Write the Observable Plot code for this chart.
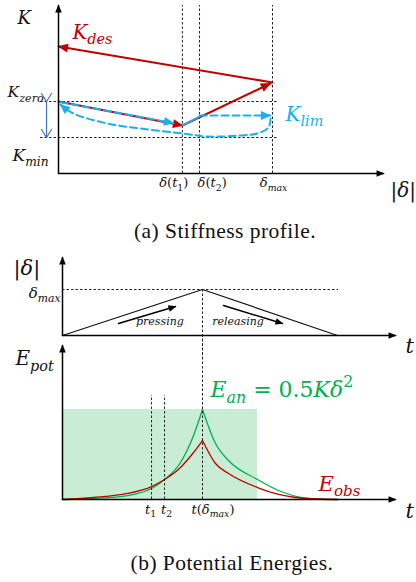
<!DOCTYPE html>
<html><head><meta charset="utf-8">
<script src="https://cdn.jsdelivr.net/npm/d3@7"></script>
<script src="https://cdn.jsdelivr.net/npm/@observablehq/plot@0.6"></script>
<style>
body{margin:0;background:#fff;}
#root{position:relative;width:416px;height:582px;overflow:hidden;background:#fff;}
#root svg{position:absolute;left:0;background:transparent;overflow:visible;}
.cap{position:absolute;font-family:"Liberation Serif","Times New Roman",serif;font-size:21.5px;letter-spacing:0.45px;line-height:21px;white-space:nowrap;transform:translateX(-50%);color:#111;}
</style></head><body><div id="root"></div><script>
// ================= DATA =================
// Panel (a): stiffness K versus |δ|  (δmax = 1, K_zero = 1)
const deltaMarks = [0.579, 0.659, 1.0];                 // δ(t1), δ(t2), δmax
const deltaTickLabels = ["δ(t_{1})", "δ(t_{2})", "δ_{max}"];
const kLevels = [1.0, 0.5];                              // K_zero, K_min
const kLevelLabels = ["K_{zero}", "K_{min}"];
const kDesDown = [[0, 1.0], [0.579, 0.667]];
const kDesUp   = [[0.579, 0.667], [0.99, 1.25]];
const kDesBack = [[1.0, 1.264], [0, 1.764]];
const kLimDown = [[0.01, 0.99], [0.537, 0.699]];
const kLimStep = [[0.579, 0.667], [0.659, 0.79]];
const kLimHold = [[0.659, 0.806], [0.99, 0.806]];
const kLimReturn = [[0.991, 0.764], [0.981, 0.639], [0.93, 0.556], [0.85, 0.528], [0.696, 0.514],
                    [0.579, 0.556], [0.383, 0.625], [0.229, 0.694], [0.07, 0.833], [0.009, 0.958]];
const kRange = [[-0.056, 1.0], [-0.056, 0.5]];

// Panel (b) top: |δ| versus t  (t(δmax) = 1)
const deltaProfile = [[0, 0], [1, 1], [1.964, 0]];
const pressingArrow = [[0.4, 0.261], [0.807, 0.63]];
const releasingArrow = [[1.15, 0.652], [1.571, 0.261]];

// Panel (b) bottom: potential energies versus t
const tMarks = [0.636, 0.729];                            // t1, t2
const tTickLabels = ["t_{1}", "t_{2}", "t(δ_{max})"];
const eAnRise  = [[0.007, 0], [0.221, 0.011], [0.464, 0.044], [0.636, 0.122], [0.729, 0.222], [0.843, 0.411], [0.936, 0.711], [1.0, 1.0]];
const eAnFall  = [[1.0, 1.0], [1.093, 0.622], [1.186, 0.433], [1.393, 0.222], [1.543, 0.1], [1.714, 0.022], [1.9, 0.0], [1.964, 0]];
const eObsRise = [[0.007, 0], [0.221, 0.022], [0.464, 0.067], [0.636, 0.144], [0.729, 0.222], [0.843, 0.356], [0.936, 0.522], [1.0, 0.656]];
const eObsFall = [[1.0, 0.656], [1.093, 0.40], [1.186, 0.289], [1.393, 0.133], [1.543, 0.056], [1.736, 0.011], [1.964, 0]];
const shade = [{t0: 0.007, t1: 1.393, e: 1.0}];

// ================= STYLE =================
const RED = "#C00000", BLUE = "#1AAFEF", GREEN = "#00B050", DBLUE = "#4472C4", INK = "#000000";
const MATH = "DejaVu Serif";
const dashK = {stroke: "#222", strokeWidth: 1, strokeDasharray: "2.5,2"};

function label(x, y, text, size, o = {}) {
  return Plot.text([{x, y, text}], {x: "x", y: "y", text: "text", fontSize: size, fontFamily: MATH,
    fontStyle: "italic", fill: o.fill || "#111", textAnchor: o.anchor || "start", lineAnchor: "bottom"});
}
function arrow(data, o) {
  return Plot.line(data, {markerEnd: "arrow", ...o});
}

// Turn Plot's open arrow markers into filled triangles (by colour); the dark-blue range marker stays open.
function fixMarkers(svg) {
  d3.select(svg).selectAll("marker").each(function () {
    const m = d3.select(this), c = (m.attr("stroke") || "").toUpperCase();
    m.attr("markerUnits", "userSpaceOnUse").attr("markerWidth", 20).attr("markerHeight", 20)
     .attr("viewBox", "-16 -10 20 20");
    m.selectAll("*").remove();
    if (c === DBLUE.toUpperCase()) {
      m.attr("stroke-width", 1.2);
      m.append("path").attr("d", "M-8,-5L0,0L-8,5").attr("fill", "none");
    } else {
      const [len, hw] = c === INK.toUpperCase() ? [8, 3.3] : [10.5, 4.5];
      m.attr("fill", m.attr("stroke")).attr("stroke", "none");
      m.append("path").attr("d", `M${-len + 1},${-hw}L1,0L${-len + 1},${hw}Z`);
    }
  });
}

const UP = /^[()0-9.=+|\s]+$/;
function mathify(svg) {
  svg.querySelectorAll("text").forEach(t => {
    const s = t.textContent;
    const fs = parseFloat(getComputedStyle(t).fontSize);
    const segs = []; const re = /([_^])\{([^}]*)\}/g; let last = 0, m;
    while ((m = re.exec(s))) {
      if (m.index > last) segs.push({s: s.slice(last, m.index), k: 0});
      segs.push({s: m[2], k: m[1] === "_" ? 1 : -1});
      last = re.lastIndex;
    }
    if (last < s.length) segs.push({s: s.slice(last), k: 0});
    t.textContent = "";
    let cur = 0;
    for (const g of segs) {
      const shift = g.k === 1 ? 0.28 * fs : g.k === -1 ? -0.42 * fs : 0;
      const runs = g.s.match(/[()0-9.=+|\s]+|[^()0-9.=+|\s]+/g) || [];
      runs.forEach((r, i) => {
        const ts = document.createElementNS("http://www.w3.org/2000/svg", "tspan");
        ts.textContent = r;
        if (i === 0 && shift !== cur) { ts.setAttribute("dy", shift - cur); cur = shift; }
        if (g.k) ts.setAttribute("font-size", 0.72 * fs);
        if (UP.test(r)) ts.setAttribute("font-style", "normal");
        t.appendChild(ts);
      });
    }
  });
}

const root = document.getElementById("root");
function place(svg, top) {
  svg.style.top = top + "px";
  root.appendChild(svg);
  fixMarkers(svg);
  mathify(svg);
}
function caption(text, cx, top) {
  const d = document.createElement("div");
  d.className = "cap"; d.textContent = text;
  d.style.left = cx + "px"; d.style.top = top + "px";
  root.appendChild(d);
}

// ================= PANEL (a) =================
const A = Plot.plot({
  width: 416, height: 205,
  style: {background: "transparent", overflow: "visible"},
  x: {domain: [0, 1], range: [58, 272], axis: null},
  y: {domain: [0, 1], range: [173, 101], axis: null},
  marks: [
    Plot.ruleX(deltaMarks, {y1: 0, y2: 2.333, ...dashK}),
    Plot.ruleY(kLevels, {x1: -0.084, x2: 1.023, ...dashK}),
    Plot.line(kRange, {stroke: DBLUE, strokeWidth: 1.2, markerStart: "arrow", markerEnd: "arrow"}),
    arrow(kDesDown, {stroke: RED, strokeWidth: 2}),
    arrow(kDesUp, {stroke: RED, strokeWidth: 2}),
    arrow(kDesBack, {stroke: RED, strokeWidth: 2}),
    arrow(kLimDown, {stroke: BLUE, strokeWidth: 2, strokeDasharray: "7,4"}),
    Plot.line(kLimStep, {stroke: BLUE, strokeWidth: 2}),
    arrow(kLimHold, {stroke: BLUE, strokeWidth: 2, strokeDasharray: "7,4"}),
    arrow(kLimReturn, {stroke: BLUE, strokeWidth: 2, strokeDasharray: "7,4", curve: "catmull-rom"}),
    arrow([[0, 0], [0, 2.333]], {stroke: INK, strokeWidth: 1.5}),
    arrow([[0, 0], [1.519, 0]], {stroke: INK, strokeWidth: 1.5}),
    label(-0.192, 2.083, "K", 18),
    label(0.065, 1.875, "K_{des}", 20, {fill: RED}),
    label(1.061, 0.736, "K_{lim}", 20, {fill: BLUE}),
    label(-0.238, kLevels[0] + 0.056, kLevelLabels[0], 15.5),
    label(-0.215, kLevels[1] - 0.333, kLevelLabels[1], 17),
    label(deltaMarks[0] + 0.028, -0.194, deltaTickLabels[0], 13, {anchor: "end"}),
    label(deltaMarks[1] - 0.009, -0.194, deltaTickLabels[1], 13),
    label(deltaMarks[2] + 0.005, -0.194, deltaTickLabels[2], 13, {anchor: "middle"}),
    label(1.551, -0.333, "|δ|", 20)
  ]
});
place(A, 0);
caption("(a) Stiffness profile.", 225, 221);

// ================= PANEL (b) top =================
const B1 = Plot.plot({
  width: 416, height: 110,
  style: {background: "transparent", overflow: "visible"},
  x: {domain: [0, 1], range: [62, 202], axis: null},
  y: {domain: [0, 1], range: [85, 39], axis: null},
  marks: [
    Plot.ruleY([1], {x1: 0, x2: 1.971, ...dashK}),
    Plot.ruleX([1], {y1: 1, y2: -0.55, ...dashK}),
    Plot.line(deltaProfile, {stroke: "#111", strokeWidth: 1.2}),
    arrow(pressingArrow, {stroke: INK, strokeWidth: 1.5}),
    arrow(releasingArrow, {stroke: INK, strokeWidth: 1.5}),
    arrow([[0, 0], [0, 1.696]], {stroke: INK, strokeWidth: 1.5}),
    arrow([[0, 0], [2.379, 0]], {stroke: INK, strokeWidth: 1.5}),
    label(-0.35, 1.326, "|δ|", 21),
    label(-0.014, 0.826, "δ_{max}", 15, {anchor: "end"}),
    label(0.696, 0.239, "pressing", 11, {anchor: "middle"}),
    label(1.254, 0.239, "releasing", 11, {anchor: "middle"}),
    label(2.45, -0.37, "t", 21)
  ]
});
place(B1, 250);

// ================= PANEL (b) bottom =================
const B2 = Plot.plot({
  width: 416, height: 185,
  style: {background: "transparent", overflow: "visible"},
  x: {domain: [0, 1], range: [62, 202], axis: null},
  y: {domain: [0, 1], range: [159, 69], axis: null},
  marks: [
    Plot.rect(shade, {x1: "t0", x2: "t1", y1: 0, y2: "e", fill: "#c8ecd4"}),
    Plot.line(eAnRise, {stroke: GREEN, strokeWidth: 1.3, curve: "monotone-x"}),
    Plot.line(eAnFall, {stroke: GREEN, strokeWidth: 1.3, curve: "monotone-x"}),
    Plot.line(eObsRise, {stroke: RED, strokeWidth: 1.3, curve: "monotone-x"}),
    Plot.line(eObsFall, {stroke: RED, strokeWidth: 1.3, curve: "monotone-x"}),
    Plot.ruleX(tMarks, {y1: 0, y2: 1.156, ...dashK}),
    Plot.ruleX([1], {y1: 0, y2: 1.85, ...dashK}),
    arrow([[0, 0], [0, 1.711]], {stroke: INK, strokeWidth: 1.5}),
    arrow([[0, 0], [2.379, 0]], {stroke: INK, strokeWidth: 1.5}),
    label(-0.336, 1.489, "E_{pot}", 20),
    label(1.057, 1.144, "E_{an} = 0.5Kδ^{2}", 22, {fill: GREEN}),
    label(1.829, 0.1, "E_{obs}", 21, {fill: RED}),
    label(tMarks[0] - 0.007, -0.156, tTickLabels[0], 13, {anchor: "middle"}),
    label(tMarks[1] + 0.014, -0.156, tTickLabels[1], 13, {anchor: "middle"}),
    label(1.075, -0.156, tTickLabels[2], 13, {anchor: "middle"}),
    label(2.45, -0.2, "t", 21)
  ]
});
place(B2, 340);
caption("(b) Potential Energies.", 232, 553);
</script></body></html>
